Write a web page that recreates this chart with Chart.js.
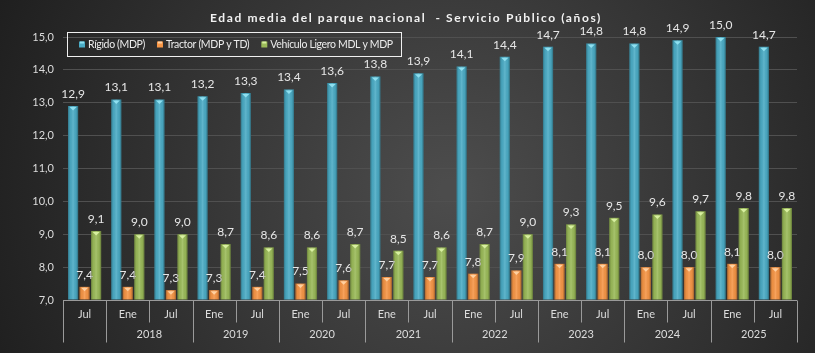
<!DOCTYPE html>
<html>
<head>
<meta charset="utf-8">
<script src="https://cdn.jsdelivr.net/npm/chart.js@4.4.1/dist/chart.umd.min.js"></script>
<style>
html,body{margin:0;padding:0;background:#2a2a2a;}
canvas{display:block;}
</style>
</head>
<body>
<canvas id="c" width="815" height="353"></canvas>
<script>
const titleText = 'Edad media del parque nacional  - Servicio Público (años)';
const periods = ['Jul','Ene','Jul','Ene','Jul','Ene','Jul','Ene','Jul','Ene','Jul','Ene','Jul','Ene','Jul','Ene','Jul'];
const years   = ['', '2018','2018','2019','2019','2020','2020','2021','2021','2022','2022','2023','2023','2024','2024','2025','2025'];
const seriesNames = ['Rígido (MDP)', 'Tractor (MDP y TD)', 'Vehículo Ligero MDL y MDP'];
const rigido  = [12.9,13.1,13.1,13.2,13.3,13.4,13.6,13.8,13.9,14.1,14.4,14.7,14.8,14.8,14.9,15.0,14.7];
const tractor = [7.4,7.4,7.3,7.3,7.4,7.5,7.6,7.7,7.7,7.8,7.9,8.1,8.1,8.0,8.0,8.1,8.0];
const ligero  = [9.1,9.0,9.0,8.7,8.6,8.6,8.7,8.5,8.6,8.7,9.0,9.3,9.5,9.6,9.7,9.8,9.8];
const colors  = ['#4bacc6', '#f79646', '#9bbb59'];
const topMarks = ['#8fe0f0', '#ffd0a0', '#d8f0a0'];
const yTicks = [7,8,9,10,11,12,13,14,15];

const FONT = 'Lato, "Open Sans", sans-serif';
const fmt = v => v.toFixed(1).replace('.', ',');

const bgPlugin = {
  id: 'bg',
  beforeDraw(chart) {
    const {ctx, width, height} = chart;
    ctx.save();
    const g = ctx.createRadialGradient(450, 190, 10, 450, 190, 520);
    g.addColorStop(0, '#4c4c4c');
    g.addColorStop(1, '#1c1c1c');
    ctx.fillStyle = g;
    ctx.fillRect(0, 0, width, height);
    ctx.restore();
  }
};

const decoPlugin = {
  id: 'deco',
  afterDatasetsDraw(chart) {
    const ctx = chart.ctx;
    ctx.save();
    chart.data.datasets.forEach((ds, di) => {
      const meta = chart.getDatasetMeta(di);
      meta.data.forEach((bar, i) => {
        const w = bar.width, x0 = bar.x - w / 2, top = bar.y, base = bar.base;
        const g = ctx.createLinearGradient(x0, 0, x0 + w, 0);
        g.addColorStop(0, 'rgba(0,0,0,0.30)');
        g.addColorStop(0.2, 'rgba(0,0,0,0.05)');
        g.addColorStop(0.5, 'rgba(255,255,255,0.12)');
        g.addColorStop(0.8, 'rgba(0,0,0,0.05)');
        g.addColorStop(1, 'rgba(0,0,0,0.35)');
        ctx.fillStyle = g;
        ctx.fillRect(x0, top, w, base - top);
        ctx.fillStyle = topMarks[di];
        ctx.beginPath();
        ctx.moveTo(bar.x - 3.5, top + 1);
        ctx.lineTo(bar.x + 3.5, top + 1);
        ctx.lineTo(bar.x, top + 4.5);
        ctx.closePath();
        ctx.fill();
        ctx.fillStyle = '#e6e6e6';
        ctx.font = '12px ' + FONT;
        ctx.textAlign = 'center';
        ctx.textBaseline = 'middle';
        ctx.fillText(fmt(ds.data[i]), bar.x, top - 12);
      });
    });
    ctx.restore();
  },
  afterDraw(chart) {
    const ctx = chart.ctx;
    const x = chart.scales.x;
    const ca = chart.chartArea;
    const n = periods.length;
    ctx.save();
    // title
    ctx.fillStyle = '#f2f2f2';
    ctx.font = 'bold 12px ' + FONT;
    ctx.textAlign = 'left';
    ctx.textBaseline = 'middle';
    if ('letterSpacing' in ctx) ctx.letterSpacing = '1.6px';
    const tw = ctx.measureText(titleText).width;
    ctx.fillText(titleText, 406 - tw / 2, 18);
    if ('letterSpacing' in ctx) ctx.letterSpacing = '0px';

    // axis line
    ctx.strokeStyle = '#9a9a9a';
    ctx.lineWidth = 1;
    const yb = Math.round(ca.bottom) + 0.5;
    ctx.beginPath();
    ctx.moveTo(ca.left, yb);
    ctx.lineTo(ca.right, yb);
    ctx.stroke();

    const half = (x.getPixelForValue(1) - x.getPixelForValue(0)) / 2;
    for (let i = 0; i <= n; i++) {
      const px = Math.round(i < n ? x.getPixelForValue(i) - half : x.getPixelForValue(n - 1) + half) + 0.5;
      const full = i === 0 || i === n || years[i] !== years[i - 1];
      ctx.beginPath();
      ctx.moveTo(px, yb);
      ctx.lineTo(px, yb + (full ? 42 : 22));
      ctx.stroke();
    }
    ctx.fillStyle = '#dcdcdc';
    ctx.font = '11px ' + FONT;
    ctx.textAlign = 'center';
    let s = 0;
    for (let i = 1; i <= n; i++) {
      if (i === n || years[i] !== years[s]) {
        if (years[s]) {
          const cx = (x.getPixelForValue(s) + x.getPixelForValue(i - 1)) / 2;
          ctx.fillText(years[s], cx, yb + 34);
        }
        s = i;
      }
    }

    // legend
    ctx.font = '10.5px ' + FONT;
    ctx.textAlign = 'left';
    if ('letterSpacing' in ctx) ctx.letterSpacing = '-0.35px';
    let lx = ca.left + 4, ly = ca.top - 5, lh = 24;
    let cx = lx + 12;
    const items = [];
    seriesNames.forEach((name, i) => {
      items.push({cx, name, i});
      cx += 6 + 3 + ctx.measureText(name).width + 12;
    });
    const lw = cx - 12 + 8 - lx;
    ctx.strokeStyle = '#f0f0f0';
    ctx.strokeRect(Math.round(lx) + 0.5, Math.round(ly) + 0.5, Math.round(lw), lh);
    items.forEach(it => {
      const my = ly + lh / 2 + 0.5;
      ctx.fillStyle = colors[it.i];
      ctx.fillRect(it.cx, my - 3, 6, 6);
      ctx.fillStyle = topMarks[it.i];
      ctx.fillRect(it.cx + 1, my - 3, 4, 2);
      ctx.fillStyle = '#ececec';
      ctx.textBaseline = 'middle';
      ctx.fillText(it.name, it.cx + 9, my);
    });
    ctx.restore();
  }
};

new Chart(document.getElementById('c'), {
  type: 'bar',
  data: {
    labels: periods,
    datasets: [
      {label: seriesNames[0], data: rigido, backgroundColor: colors[0]},
      {label: seriesNames[1], data: tractor, backgroundColor: colors[1]},
      {label: seriesNames[2], data: ligero, backgroundColor: colors[2]}
    ]
  },
  options: {
    responsive: false,
    animation: false,
    devicePixelRatio: 1,
    datasets: {bar: {categoryPercentage: 0.8, barPercentage: 0.88, base: 7}},
    layout: {padding: {top: 37, right: 18, left: 0, bottom: 0}},
    plugins: {legend: {display: false}, title: {display: false}, tooltip: {enabled: false}},
    scales: {
      x: {
        grid: {display: false, drawTicks: false},
        border: {display: false},
        ticks: {color: '#dcdcdc', font: {size: 11, family: FONT}, padding: 8, maxRotation: 0, autoSkip: false},
        afterFit(scale) { scale.height = 53; }
      },
      y: {
        min: 7, max: 15,
        afterBuildTicks(scale) { scale.ticks = yTicks.map(v => ({value: v})); },
        grid: {color: '#505050', drawTicks: false},
        border: {display: false},
        ticks: {color: '#dcdcdc', font: {size: 11, family: FONT}, padding: 9, callback: v => fmt(v)},
        afterFit(scale) { scale.width = 63; }
      }
    }
  },
  plugins: [bgPlugin, decoPlugin]
});
</script>
</body>
</html>
